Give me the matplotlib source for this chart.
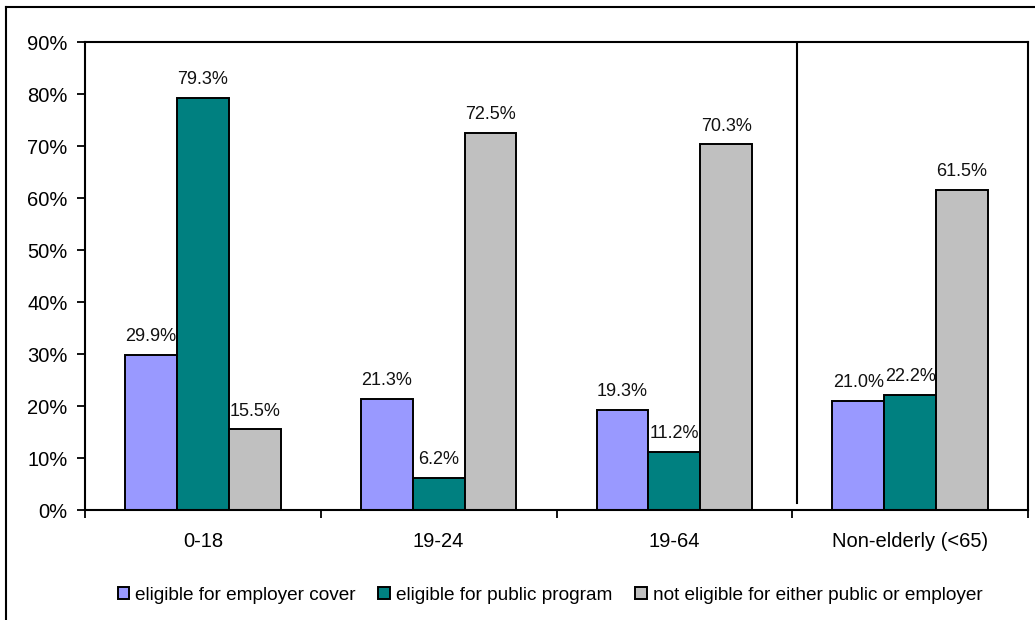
import numpy as np
import matplotlib
matplotlib.use("Agg")
import matplotlib.pyplot as plt
from matplotlib.lines import Line2D

plt.rcParams["font.family"] = ["Liberation Sans", "DejaVu Sans"]

# data
groups = ["0-18", "19-24", "19-64", "Non-elderly (<65)"]
series_names = [
    "eligible for employer cover",
    "eligible for public program",
    "not eligible for either public or employer",
]
employer = [29.9, 21.3, 19.3, 21.0]
public = [79.3, 6.2, 11.2, 22.2]
neither = [15.5, 72.5, 70.3, 61.5]
colors = ["#9999FF", "#008080", "#C0C0C0"]

fig = plt.figure(figsize=(10.35, 6.2), dpi=100)
ax = fig.add_axes([85 / 1035, 1 - 510 / 620, (1028 - 85) / 1035, (510 - 42) / 620])

x = np.arange(len(groups))
width = 0.22
for i, (vals, name, col) in enumerate(zip([employer, public, neither], series_names, colors)):
    pos = x + (i - 1) * width
    ax.bar(pos, vals, width, color=col, edgecolor="black", linewidth=1.4, label=name, zorder=2)
    for xp, v in zip(pos, vals):
        ax.annotate(f"{v:.1f}%", (xp, v), xytext=(0, 10), textcoords="offset points",
                    ha="center", va="baseline", fontsize=13, color="#111111")

ax.set_xlim(-0.5, 3.5)
ax.set_ylim(0, 90)
ax.set_yticks(np.arange(0, 91, 10))
ax.set_yticklabels([f"{v}%" for v in range(0, 91, 10)], fontsize=14.5)

# ticks at group boundaries, labels in the middle
ax.set_xticks(np.arange(-0.5, 4, 1))
ax.set_xticklabels([])
ax.set_xticks(x, minor=True)
ax.set_xticklabels(groups, minor=True, fontsize=14.5)
ax.tick_params(axis="x", which="major", direction="out", length=6, width=1.3)
ax.tick_params(axis="x", which="minor", length=0, pad=16)
ax.tick_params(axis="y", direction="out", length=5.5, width=1.3, pad=7)

for sp in ax.spines.values():
    sp.set_linewidth(1.5)

# separator before the non-elderly group
ax.axvline(2.52, ymin=0.015, ymax=1, color="black", linewidth=1.5)

fig.legend(loc="center", bbox_to_anchor=(550 / 1035, 1 - 595 / 620), ncol=3, frameon=False,
           fontsize=13.7, handlelength=0.62, handleheight=0.62, handletextpad=0.3,
           columnspacing=1.2, borderaxespad=0)

# outer chart border (top and left visible)
fig.add_artist(Line2D([6 / 1035, 6 / 1035], [0, 1 - 7 / 620], transform=fig.transFigure, color="black", linewidth=1.5))
fig.add_artist(Line2D([6 / 1035, 1], [1 - 7 / 620, 1 - 7 / 620], transform=fig.transFigure, color="black", linewidth=1.5))

fig.savefig("out.png", dpi=100, facecolor="white")
